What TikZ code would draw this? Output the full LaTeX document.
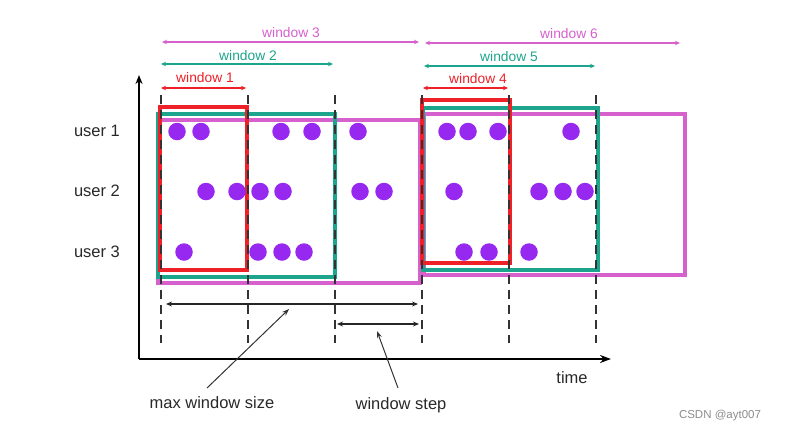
\documentclass[tikz,border=0pt]{standalone}
\usepackage{fontspec}
\setmainfont{Liberation Sans}
\usetikzlibrary{arrows.meta}
\definecolor{wred}{RGB}{238,32,40}
\definecolor{wteal}{RGB}{28,165,140}
\definecolor{wmag}{RGB}{214,96,204}
\definecolor{dotc}{RGB}{150,40,240}
\definecolor{txtc}{RGB}{40,40,40}
\begin{document}
\begin{tikzpicture}[x=1pt,y=-1pt,
  winrect/.style={line width=3.2pt},
  winarr/.style={line width=1.3pt,{Stealth[length=5pt,width=4.5pt]}-{Stealth[length=5pt,width=4.5pt]}},
  winlab/.style={font=\fontsize{13.8}{15}\selectfont},
  blacklab/.style={font=\fontsize{16.5}{18}\selectfont,text=txtc},
  tick/.style={line width=1.6pt,dash pattern=on 9pt off 6pt,black!80},
  evt/.style={circle,fill=dotc,inner sep=0pt,minimum size=17.5pt},
  ptr/.style={line width=1pt,black!80,-{Stealth[length=7pt,width=5pt]}},
  measarr/.style={line width=1.4pt,black!85,{Stealth[length=6pt,width=5pt]}-{Stealth[length=6pt,width=5pt]}}]
\useasboundingbox (0,0) rectangle (790,429);

% axes
\coordinate (org) at (139,359);
\coordinate (ytop) at (139,75);
\coordinate (xend) at (611,359);
\draw[line width=1.8pt,-{Stealth[length=9pt,width=7pt]}] (org) -- (ytop);
\draw[line width=1.8pt,-{Stealth[length=11pt,width=8pt]}] (org) -- (xend);

% window rectangles
\draw[winrect,wmag] (158,120) rectangle (420,283);
\draw[winrect,wteal] (158,114) rectangle (335,277);
\draw[winrect,wred] (160,107) rectangle (247,270);
\draw[winrect,wmag] (424,114) rectangle (685,275);
\draw[winrect,wteal] (423,108) rectangle (598,270);
\draw[winrect,wred] (422,100) rectangle (510,263);

% dashed time ticks
\foreach \i/\x in {1/161,2/248,3/335,4/422,5/509,6/596}{
  \coordinate (t\i a) at (\x,95);
  \coordinate (t\i b) at (\x,343);
  \draw[tick] (t\i a) -- (t\i b);
}

% window arrows
\coordinate (w1a) at (161,88); \coordinate (w1b) at (246,88);
\coordinate (w2a) at (161,64); \coordinate (w2b) at (333,64);
\coordinate (w3a) at (162,42); \coordinate (w3b) at (419,42);
\coordinate (w4a) at (423,88); \coordinate (w4b) at (508,88);
\coordinate (w5a) at (424,66); \coordinate (w5b) at (595,66);
\coordinate (w6a) at (425,43); \coordinate (w6b) at (680,43);
\draw[winarr,wred] (w1a) -- (w1b);
\draw[winarr,wteal] (w2a) -- (w2b);
\draw[winarr,wmag] (w3a) -- (w3b);
\draw[winarr,wred] (w4a) -- (w4b);
\draw[winarr,wteal] (w5a) -- (w5b);
\draw[winarr,wmag] (w6a) -- (w6b);
\node[winlab,text=wred] (l1) at (205,78) {window 1};
\node[winlab,text=wteal] (l2) at (248,56) {window 2};
\node[winlab,text=wmag] (l3) at (291,33) {window 3};
\node[winlab,text=wred] (l4) at (478,79) {window 4};
\node[winlab,text=wteal] (l5) at (509,57) {window 5};
\node[winlab,text=wmag] (l6) at (569,34) {window 6};

% user labels
\node[blacklab] (u1) at (97,131) {user 1};
\node[blacklab] (u2) at (97,191) {user 2};
\node[blacklab] (u3) at (97,252) {user 3};

% events
\foreach \x [count=\k] in {177,201,281,312,358,447,468,498,571}
  \node[evt] (ea\k) at (\x,131.5) {};
\foreach \x [count=\k] in {206,237,260,283,360,384,454,539,563,585}
  \node[evt] (eb\k) at (\x,191.5) {};
\foreach \x [count=\k] in {184,258,282,304,464,489,529}
  \node[evt] (ec\k) at (\x,252) {};

% measures
\coordinate (m1a) at (166,304); \coordinate (m1b) at (418,304);
\coordinate (m2a) at (337,324); \coordinate (m2b) at (419,324);
\draw[measarr] (m1a) -- (m1b);
\draw[measarr] (m2a) -- (m2b);
\node[blacklab] (mws) at (212,403) {max window size};
\node[blacklab] (wst) at (401,405) {window step};
\node[blacklab] (time) at (572,378) {time};
\coordinate (p1) at (289,309);
\coordinate (p2) at (377,331);
\draw[ptr] (207,388) -- (p1);
\draw[ptr] (398,388) -- (p2);

\node[font=\fontsize{11.5}{13}\selectfont,text=black!45] (csdn) at (720,416) {CSDN @ayt007};
\end{tikzpicture}
\end{document}
